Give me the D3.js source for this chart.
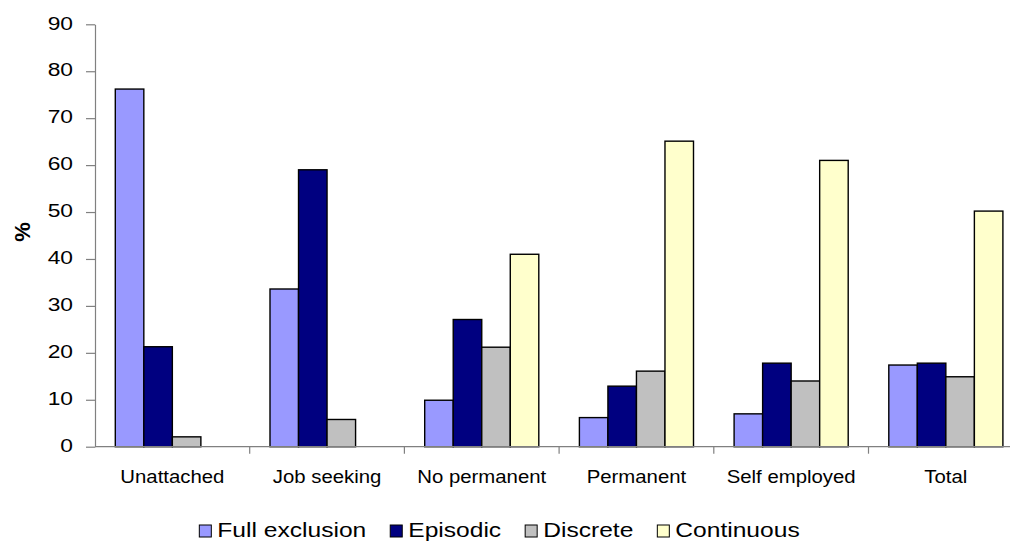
<!DOCTYPE html>
<html>
<head>
<meta charset="utf-8">
<script src="https://cdn.jsdelivr.net/npm/d3@7"></script>
<style>
  html, body { margin: 0; padding: 0; background: #fff; }
  svg { display: block; font-family: "Liberation Sans", Arial, sans-serif; }
</style>
</head>
<body>
<svg id="chart" width="1010" height="545"></svg>
<script>
// Labour-market groups and the four exclusion profiles (%)
const categories = ["Unattached", "Job seeking", "No permanent", "Permanent", "Self employed", "Total"];
const seriesNames = ["Full exclusion", "Episodic", "Discrete", "Continuous"];
const fullExclusion = [76.2, 33.6, 9.9, 6.2, 7.0, 17.4];
const episodic      = [21.3, 59.0, 27.1, 12.9, 17.8, 17.8];
const discrete      = [2.1, 5.8, 21.2, 16.1, 14.0, 14.9];
const continuous    = [0, 0, 41.0, 65.1, 61.0, 50.2];
const yTicks = [0, 10, 20, 30, 40, 50, 60, 70, 80, 90];
const colors = ["#9999FF", "#000080", "#C0C0C0", "#FFFFCC"];

const seriesValues = [fullExclusion, episodic, discrete, continuous];

const svg = d3.select("#chart");

const axisX = 95, yBottom = 446.7, yTop = 24.3, catStep = 154.7;

const x = d3.scaleBand()
  .domain(categories)
  .range([axisX, axisX + catStep * categories.length])
  .paddingInner(0).paddingOuter(0);

const xInner = d3.scaleBand()
  .domain(seriesNames)
  .range([20.3, catStep - 20.3])
  .padding(0);

const y = d3.scaleLinear().domain([0, 90]).range([yBottom, yTop]);

// Bars
const groups = svg.append("g").selectAll("g")
  .data(categories)
  .join("g")
  .attr("transform", d => `translate(${x(d)},0)`);

groups.selectAll("rect")
  .data((c, ci) => seriesNames.map((s, si) => ({ s, si, v: seriesValues[si][ci] })).filter(d => d.v > 0))
  .join("rect")
  .attr("x", d => xInner(d.s))
  .attr("width", xInner.bandwidth())
  .attr("y", d => y(d.v))
  .attr("height", d => y(0) - y(d.v))
  .attr("fill", d => colors[d.si])
  .attr("stroke", "#000")
  .attr("stroke-width", 1.4);

// Y axis
const yAxisG = svg.append("g")
  .attr("transform", `translate(${axisX},0)`)
  .call(d3.axisLeft(y).tickValues(yTicks).tickSize(9).tickSizeOuter(0));
yAxisG.select(".domain").attr("stroke", "#808080").attr("stroke-width", 1.2);
yAxisG.selectAll(".tick line").attr("stroke", "#808080").attr("stroke-width", 1.2);
const tickScale = 1.2;
yAxisG.selectAll(".tick text")
  .attr("font-family", "Liberation Sans, Arial, sans-serif")
  .attr("font-size", 19)
  .attr("fill", "#000")
  .attr("x", -22 / tickScale)
  .attr("dy", "0.25em")
  .attr("transform", `scale(${tickScale},1)`);

// X axis line, boundary ticks and category labels
const xAxisG = svg.append("g").attr("transform", `translate(0,${yBottom})`);
xAxisG.append("line")
  .attr("x1", axisX).attr("x2", x.range()[1])
  .attr("stroke", "#808080").attr("stroke-width", 1.2);
xAxisG.selectAll("line.btick")
  .data(categories.slice(1).concat(["__end"]))
  .join("line")
  .attr("class", "btick")
  .attr("x1", (d, i) => axisX + catStep * (i + 1))
  .attr("x2", (d, i) => axisX + catStep * (i + 1))
  .attr("y1", 0).attr("y2", 7)
  .attr("stroke", "#808080").attr("stroke-width", 1.2);

const catScale = 1.1;
xAxisG.selectAll("text")
  .data(categories)
  .join("text")
  .attr("transform", d => `translate(${x(d) + x.bandwidth() / 2},36.6) scale(${catScale},1)`)
  .attr("text-anchor", "middle")
  .attr("font-size", 18.5)
  .attr("fill", "#000")
  .text(d => d);

// Y axis title
svg.append("text")
  .attr("transform", "translate(30,232) rotate(-90)")
  .attr("text-anchor", "middle")
  .attr("font-size", 22)
  .attr("font-weight", "bold")
  .attr("fill", "#000")
  .text("%");

// Legend
const legScale = 1.2;
const sq = 12, sqGap = 6, itemGap = 24;
const legend = svg.append("g");
let cursor = 0;
seriesNames.forEach((name, i) => {
  const item = legend.append("g").attr("transform", `translate(${cursor},0)`);
  item.append("rect")
    .attr("x", 0).attr("y", -sq)
    .attr("width", sq).attr("height", sq)
    .attr("fill", colors[i])
    .attr("stroke", "#000").attr("stroke-width", 1);
  const t = item.append("text")
    .attr("transform", `translate(${sq + sqGap},0) scale(${legScale},1)`)
    .attr("font-size", 20.5)
    .attr("fill", "#000")
    .text(name);
  const w = t.node().getComputedTextLength() * legScale;
  cursor += sq + sqGap + w + itemGap;
});
const legendWidth = cursor - itemGap;
legend.attr("transform", `translate(${499.5 - legendWidth / 2},537)`);
</script>
</body>
</html>
